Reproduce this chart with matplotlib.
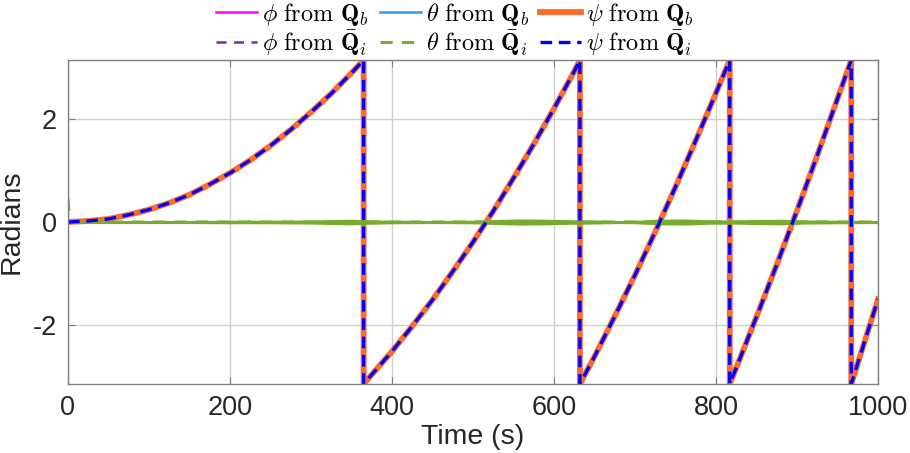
import numpy as np
import matplotlib
matplotlib.use("Agg")
import matplotlib.pyplot as plt

plt.rcParams['font.family'] = ['Liberation Sans', 'DejaVu Sans']
plt.rcParams['mathtext.fontset'] = 'cm'

# Yaw angle (rad) sampled along the run; repeated times mark the +/-pi wraps
psi_t = [0, 25, 50, 75, 100, 125, 150, 175, 200, 225, 250, 275, 300, 325, 350, 365,
         365, 375, 400, 425, 450, 475, 500, 525, 550, 575, 600, 625, 632,
         632, 650, 675, 700, 725, 750, 775, 800, 817,
         817, 825, 850, 875, 900, 925, 950, 967,
         967, 1000]
psi_vals = [0.00, 0.02, 0.06, 0.14, 0.24, 0.37, 0.53, 0.73, 0.95, 1.20, 1.48, 1.79, 2.13, 2.49, 2.89, 3.14,
            -3.14, -2.96, -2.51, -2.02, -1.51, -0.96, -0.39, 0.21, 0.85, 1.51, 2.20, 2.92, 3.14,
            -3.14, -2.61, -1.83, -1.03, -0.19, 0.68, 1.58, 2.50, 3.14,
            -3.14, -2.83, -1.84, -0.83, 0.22, 1.29, 2.39, 3.14,
            -3.14, -1.50]

# Roll and pitch stay near zero
rp_t = [0, 100, 200, 300, 400, 500, 600, 700, 800, 900, 1000]
phi_qb = [0.0, 0.0, 0.0, 0.0, 0.0, 0.0, 0.0, 0.0, 0.0, 0.0, 0.0]
theta_qb = [0.0, 0.0, 0.0, 0.0, 0.0, 0.0, 0.0, 0.0, 0.0, 0.0, 0.0]
phi_qi = [0.0, 0.0, 0.0, 0.0, 0.0, 0.0, 0.0, 0.0, 0.0, 0.0, 0.0]

# Pitch from the estimated quaternion: mean and spread of the noisy trace
theta_qi_t = [0, 2, 50, 100, 150, 200, 250, 300, 330, 350, 370, 400, 450, 500, 530, 560,
              590, 620, 650, 680, 700, 730, 760, 790, 820, 850, 880, 910, 950, 1000]
theta_qi = [0.45, 0.0, 0.0, 0.0, 0.0, 0.0, 0.0, 0.0, 0.0, 0.0, 0.0, 0.0, 0.0, 0.0, 0.0, 0.0,
            0.0, 0.0, 0.0, 0.0, 0.0, 0.0, 0.0, 0.0, 0.0, 0.0, 0.0, 0.0, 0.0, 0.0]
theta_qi_spread = [0.0, 0.03, 0.03, 0.03, 0.03, 0.035, 0.035, 0.04, 0.05, 0.055, 0.045, 0.035, 0.03,
                   0.035, 0.05, 0.06, 0.055, 0.045, 0.04, 0.03, 0.035, 0.055, 0.06, 0.045, 0.04, 0.05,
                   0.055, 0.04, 0.035, 0.03]

x_ticks = [0, 200, 400, 600, 800, 1000]
y_ticks = [-2, 0, 2]

fig = plt.figure(figsize=(9.1, 4.53), dpi=100)
ax = fig.add_axes([0.0747, 0.1523, 0.8901, 0.7152])

c_orange = '#FF6B2C'
c_green = '#77AC30'
l1, = ax.plot(rp_t, phi_qb, color='#FF00FF', lw=1.8, label=r'$\phi\ \mathrm{from}\ \mathbf{Q}_b$')
l2, = ax.plot(rp_t, theta_qb, color='#2B9AE8', lw=1.8, label=r'$\theta\ \mathrm{from}\ \mathbf{Q}_b$')
l3, = ax.plot(psi_t, psi_vals, color=c_orange, lw=4.2, label=r'$\psi\ \mathrm{from}\ \mathbf{Q}_b$')
l4, = ax.plot(rp_t, phi_qi, color='#7E2F8E', lw=1.8, ls=(0, (4, 3)),
              label=r'$\phi\ \mathrm{from}\ \bar{\mathbf{Q}}_i$')
lo = np.array(theta_qi) - np.array(theta_qi_spread)
hi = np.array(theta_qi) + np.array(theta_qi_spread)
ax.fill_between(theta_qi_t, lo, hi, color=c_green, lw=0, zorder=2)
l5, = ax.plot(theta_qi_t, theta_qi, color=c_green, lw=2.2, ls=(0, (4, 3)),
              label=r'$\theta\ \mathrm{from}\ \bar{\mathbf{Q}}_i$')
l6, = ax.plot(psi_t, psi_vals, color='#0000FF', lw=2.4, ls=(0, (3.5, 2.0)),
              label=r'$\psi\ \mathrm{from}\ \bar{\mathbf{Q}}_i$')

ax.set_xlim(0, 1000)
ax.set_ylim(-np.pi, np.pi)
ax.set_xticks(x_ticks)
ax.set_yticks(y_ticks)
ax.set_yticklabels([str(v) for v in y_ticks])
ax.grid(True, color='#D0D0D0', lw=1.0)
ax.set_axisbelow(True)
for s in ax.spines.values():
    s.set_color('#808080')
    s.set_linewidth(1.0)
ax.tick_params(direction='in', length=5, color='#808080', labelsize=19.5,
               labelcolor='#262626', top=True, right=True, pad=8)
ax.set_xlabel('Time (s)', fontsize=20.5, color='#262626', labelpad=2)
ax.set_ylabel('Radians', fontsize=20.5, color='#262626', labelpad=6)

# Row-major ordering for a 3-column legend (matplotlib fills columns first)
leg = fig.legend(handles=[l1, l4, l2, l5, l3, l6], ncol=3, loc='upper center',
                 bbox_to_anchor=(0.5, 1.02), frameon=False, fontsize=17.5,
                 handlelength=1.7, handletextpad=0.2, columnspacing=0.45,
                 labelspacing=0.0, borderaxespad=0.0)

fig.savefig('out.png', dpi=100)
